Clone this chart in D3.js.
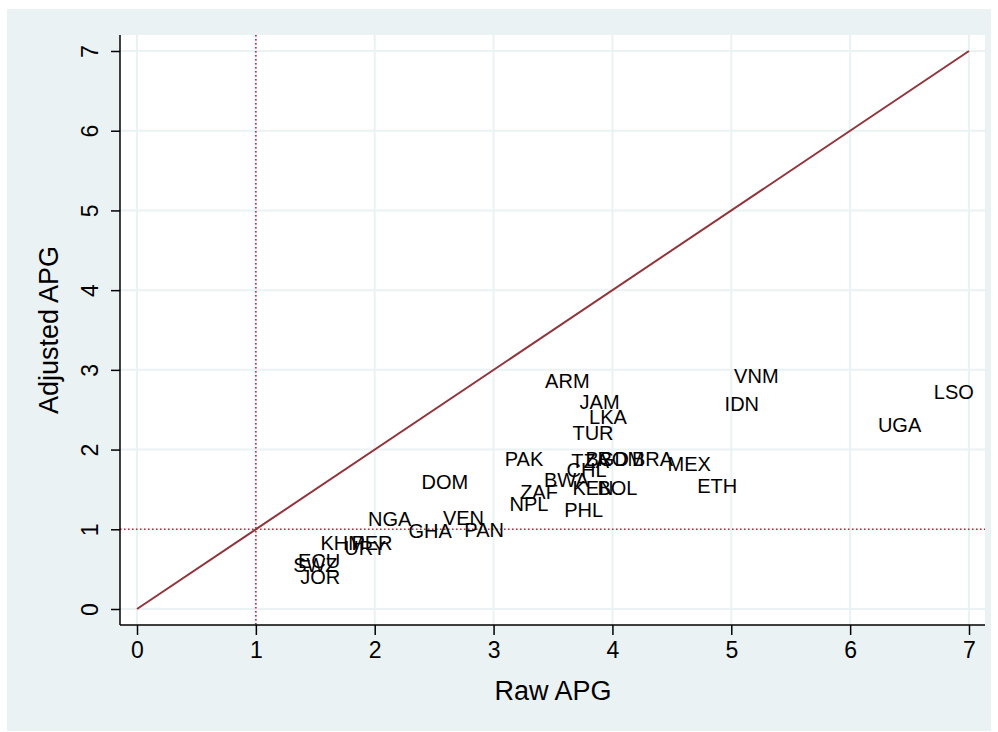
<!DOCTYPE html>
<html>
<head>
<meta charset="utf-8">
<script src="https://cdn.jsdelivr.net/npm/d3@7"></script>
<style>
  body { margin: 0; background: #fff; }
  text { font-family: "Liberation Sans", Arial, Helvetica, sans-serif; fill: #000; }
</style>
</head>
<body>
<svg id="chart" width="998" height="732"></svg>
<script>
// country codes and their raw / adjusted APG values
const countries = ["ARM", "VNM", "LSO", "IDN", "JAM", "LKA", "UGA", "TUR", "PAK", "TZA",
  "BGD", "ROM", "BRA", "MEX", "CHL", "BWA", "DOM", "ETH", "KEN", "BOL",
  "ZAF", "NPL", "PHL", "NGA", "VEN", "GHA", "PAN", "KHM", "PER", "URY",
  "ECU", "SWZ", "JOR"];
const rawAPG = [3.40, 4.99, 6.67, 4.91, 3.69, 3.77, 6.20, 3.63, 3.06, 3.62,
  3.74, 3.84, 4.13, 4.43, 3.58, 3.39, 2.36, 4.68, 3.63, 3.84,
  3.19, 3.10, 3.56, 1.91, 2.54, 2.25, 2.72, 1.51, 1.77, 1.71,
  1.32, 1.28, 1.34];
const adjAPG = [2.86, 2.92, 2.72, 2.58, 2.60, 2.41, 2.31, 2.21, 1.89, 1.86,
  1.88, 1.88, 1.88, 1.82, 1.74, 1.62, 1.59, 1.54, 1.52, 1.52,
  1.47, 1.32, 1.25, 1.13, 1.14, 0.98, 0.99, 0.83, 0.83, 0.77,
  0.60, 0.55, 0.40];
const xTicks = [0, 1, 2, 3, 4, 5, 6, 7];
const yTicks = [0, 1, 2, 3, 4, 5, 6, 7];
const refLine = [0, 7];   // 45 degree line
const refValue = 1;       // dotted reference at 1

const data = countries.map((c, i) => ({ code: c, x: rawAPG[i], y: adjAPG[i] }));

const svg = d3.select("#chart");
const bg = "#eaf2f3";

// outer graph region
svg.append("rect")
  .attr("x", 7).attr("y", 9)
  .attr("width", 984).attr("height", 722)
  .attr("fill", bg);

// plot region
const plot = { left: 120, top: 35, right: 985, bottom: 625 };
svg.append("rect")
  .attr("x", plot.left).attr("y", plot.top)
  .attr("width", plot.right - plot.left).attr("height", plot.bottom - plot.top)
  .attr("fill", "#fff");

const x = d3.scaleLinear().domain([0, 7]).range([137, 969]);
const y = d3.scaleLinear().domain([0, 7]).range([609, 51]);

// grid lines
const grid = svg.append("g");
grid.selectAll(".gx")
  .data(xTicks)
  .enter()
  .append("line")
  .attr("x1", d => x(d)).attr("x2", d => x(d))
  .attr("y1", plot.top).attr("y2", plot.bottom)
  .attr("stroke", bg)
  .attr("stroke-width", 2);
grid.selectAll(".gy")
  .data(yTicks)
  .enter()
  .append("line")
  .attr("x1", plot.left).attr("x2", plot.right)
  .attr("y1", d => y(d)).attr("y2", d => y(d))
  .attr("stroke", bg)
  .attr("stroke-width", 2);

// dotted reference lines at 1
svg.append("line")
  .attr("x1", x(refValue)).attr("x2", x(refValue))
  .attr("y1", plot.top).attr("y2", plot.bottom)
  .attr("stroke", "#c8203f")
  .attr("stroke-width", 1.6)
  .attr("stroke-dasharray", "1.5,2.5");
svg.append("line")
  .attr("x1", plot.left).attr("x2", plot.right)
  .attr("y1", y(refValue)).attr("y2", y(refValue))
  .attr("stroke", "#c8203f")
  .attr("stroke-width", 1.6)
  .attr("stroke-dasharray", "1.5,2.5");

// 45 degree line
svg.append("line")
  .attr("x1", x(refLine[0])).attr("y1", y(refLine[0]))
  .attr("x2", x(refLine[1])).attr("y2", y(refLine[1]))
  .attr("stroke", "#90353b")
  .attr("stroke-width", 2);

// marker labels (no symbols), placed at 3 o'clock
svg.append("g")
  .selectAll("text")
  .data(data)
  .enter()
  .append("text")
  .attr("x", d => x(d.x) + 4)
  .attr("y", d => y(d.y))
  .attr("dy", "0.36em")
  .attr("font-size", 20)
  .text(d => d.code);

// x axis
const xAxis = svg.append("g")
  .attr("transform", `translate(0, ${plot.bottom})`)
  .call(d3.axisBottom(x).tickValues(xTicks).tickSize(10).tickPadding(7).tickFormat(d3.format("d")));
xAxis.select(".domain").remove();
xAxis.selectAll("line").attr("stroke", "#000").attr("stroke-width", 1.5);
xAxis.selectAll("text").attr("font-size", 23).attr("font-family", null);
svg.append("line")
  .attr("x1", plot.left).attr("x2", plot.right)
  .attr("y1", plot.bottom).attr("y2", plot.bottom)
  .attr("stroke", "#000").attr("stroke-width", 1.5);

// y axis
const yAxis = svg.append("g")
  .attr("transform", `translate(${plot.left}, 0)`)
  .call(d3.axisLeft(y).tickValues(yTicks).tickSize(9).tickFormat(d3.format("d")));
yAxis.select(".domain").remove();
yAxis.selectAll("line").attr("stroke", "#000").attr("stroke-width", 1.5);
yAxis.selectAll("text")
  .attr("font-size", 23)
  .attr("font-family", null)
  .attr("x", null).attr("dy", null)
  .attr("text-anchor", "middle")
  .attr("transform", "translate(-22, 0) rotate(-90)");
svg.append("line")
  .attr("x1", plot.left).attr("x2", plot.left)
  .attr("y1", plot.top).attr("y2", plot.bottom)
  .attr("stroke", "#000").attr("stroke-width", 1.5);

// axis titles
svg.append("text")
  .attr("x", (x(0) + x(7)) / 2)
  .attr("y", 700)
  .attr("text-anchor", "middle")
  .attr("font-size", 27)
  .text("Raw APG");

svg.append("text")
  .attr("transform", `translate(58, ${(y(0) + y(7)) / 2}) rotate(-90)`)
  .attr("text-anchor", "middle")
  .attr("font-size", 27)
  .text("Adjusted APG");
</script>
</body>
</html>
